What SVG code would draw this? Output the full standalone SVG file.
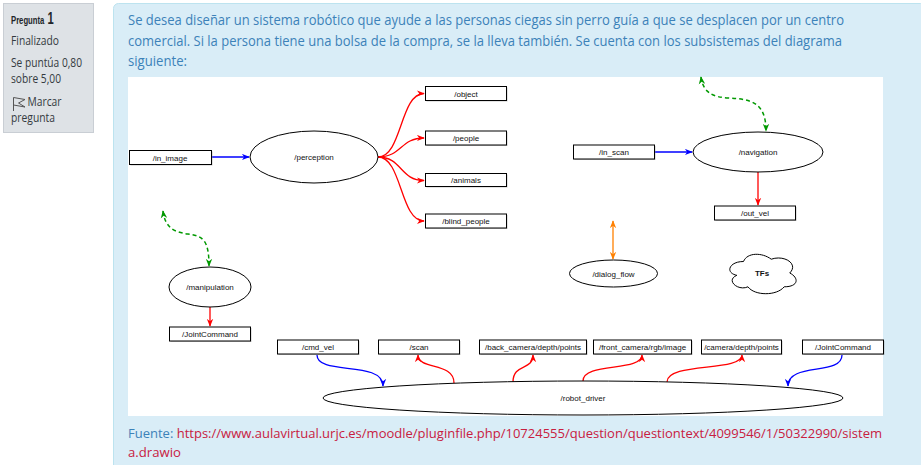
<svg xmlns="http://www.w3.org/2000/svg" width="921" height="465" viewBox="0 0 921 465">
<style>
.pg{font-family:"Open Sans","Liberation Sans",sans-serif}
.q{font-size:14px;fill:#3c82b9}
.side{font-size:12px;fill:#343a40}
.lbl{font-family:"Liberation Sans",Arial,sans-serif;font-size:8px;fill:#111;text-anchor:middle}
.box{fill:#fff;stroke:#000;stroke-width:1}
.sh{fill:#9a9a9a;opacity:.55}
.ell{fill:#fff;stroke:#000;stroke-width:1}
.r{fill:none;stroke:#ff0000;stroke-width:1.3;marker-end:url(#mr)}
.b{fill:none;stroke:#0000ff;stroke-width:1.3;marker-end:url(#mb)}
.g{fill:none;stroke:#009900;stroke-width:1.5;stroke-dasharray:4 3;marker-start:url(#mg);marker-end:url(#mg)}
.o{fill:none;stroke:#ff8000;stroke-width:1.3;marker-start:url(#mo);marker-end:url(#mo)}
</style>
<defs>
<marker id="mr" viewBox="0 0 10 8" refX="9" refY="4" markerWidth="8" markerHeight="7" orient="auto-start-reverse" markerUnits="userSpaceOnUse"><path d="M0,0 L10,4 L0,8 L3,4 z" fill="#ff0000"/></marker>
<marker id="mb" viewBox="0 0 10 8" refX="9" refY="4" markerWidth="8" markerHeight="7" orient="auto-start-reverse" markerUnits="userSpaceOnUse"><path d="M0,0 L10,4 L0,8 L3,4 z" fill="#0000ff"/></marker>
<marker id="mg" viewBox="0 0 10 8" refX="9" refY="4" markerWidth="8" markerHeight="7" orient="auto-start-reverse" markerUnits="userSpaceOnUse"><path d="M0,0 L10,4 L0,8 L3,4 z" fill="#009900"/></marker>
<marker id="mo" viewBox="0 0 10 8" refX="9" refY="4" markerWidth="8" markerHeight="7" orient="auto-start-reverse" markerUnits="userSpaceOnUse"><path d="M0,0 L10,4 L0,8 L3,4 z" fill="#ff8000"/></marker>
</defs>
<rect width="921" height="465" fill="#ffffff"/>

<g id="info-panel">
<rect x="3.5" y="3.5" width="90" height="129" fill="#dee2e6" stroke="#c9ced4"/>
<text transform="translate(11,24) scale(0.7,1)" font-family="'Liberation Sans',Arial,sans-serif" font-weight="bold" font-size="11" fill="#212529">Pregunta</text>
<text transform="translate(47.5,24) scale(0.7,1)" font-family="'Liberation Sans',Arial,sans-serif" font-weight="bold" font-size="16" fill="#212529">1</text>
<text class="pg side" x="11" y="45" textLength="48" lengthAdjust="spacingAndGlyphs">Finalizado</text>
<text class="pg side" x="11" y="67" textLength="71" lengthAdjust="spacingAndGlyphs">Se puntúa 0,80</text>
<text class="pg side" x="11" y="83" textLength="50" lengthAdjust="spacingAndGlyphs">sobre 5,00</text>
<path d="M13.5,111 L13.5,97.5 L25,99.5 L18.5,103 L25,107 L13.5,105" fill="none" stroke="#555" stroke-width="1"/>
<text class="pg side" x="27.5" y="106" textLength="34" lengthAdjust="spacingAndGlyphs">Marcar</text>
<text class="pg side" x="11" y="122" textLength="44" lengthAdjust="spacingAndGlyphs">pregunta</text>
</g>

<g id="question">
<rect x="113.5" y="3.5" width="812" height="470" rx="5" fill="#d9edf7" stroke="#bce3ef"/>
<text class="pg q" x="128" y="25" textLength="716" lengthAdjust="spacingAndGlyphs">Se desea diseñar un sistema robótico que ayude a las personas ciegas sin perro guía a que se desplacen por un centro</text>
<text class="pg q" x="128" y="46" textLength="714" lengthAdjust="spacingAndGlyphs">comercial. Si la persona tiene una bolsa de la compra, se la lleva también. Se cuenta con los subsistemas del diagrama</text>
<text class="pg q" x="128" y="66" textLength="59" lengthAdjust="spacingAndGlyphs">siguiente:</text>
<rect x="128" y="77" width="755" height="339" fill="#ffffff"/>
<text class="pg" font-size="13" x="128" y="438" textLength="754" lengthAdjust="spacingAndGlyphs"><tspan fill="#3c82b9">Fuente: </tspan><tspan fill="#c8203f">https://www.aulavirtual.urjc.es/moodle/pluginfile.php/10724555/question/questiontext/4099546/1/50322990/sistem</tspan></text>
<text class="pg" font-size="13" fill="#c8203f" x="128" y="457" textLength="53" lengthAdjust="spacingAndGlyphs">a.drawio</text>
</g>

<g id="connectors">
<path class="b" d="M211,157 L249,157"/>
<path class="r" d="M378,157 C402,157 400,93.5 424,93.5"/>
<path class="r" d="M378,157 C402,157 400,138 424,138"/>
<path class="r" d="M378,157 C402,157 400,180.5 424,180.5"/>
<path class="r" d="M378,157 C402,157 400,221 424,221"/>
<path class="b" d="M654,152 L692,152"/>
<path class="r" d="M758,172 L758,205"/>
<path class="g" d="M701,77 C703,92 712,97 728,98 C752,99 766,103 766,131"/>
<path class="g" d="M163,211 C165,226 172,232 188,234 C203,236 209,240 209,266"/>
<path class="r" d="M210,307 L210,326"/>
<path class="o" d="M613,221 L613,259"/>
<path class="b" d="M317,355 C317,376 383,360 383,386"/>
<path class="r" d="M454,383 C454,362 418,370 418,355"/>
<path class="r" d="M513,382 C513,363 533,371 533,355"/>
<path class="r" d="M583,381 C583,362 642,372 642,355"/>
<path class="r" d="M667,382 C667,362 742,372 742,355"/>
<path class="b" d="M842,355 C842,376 788,362 788,386"/>
</g>

<g id="in_image"><rect class="sh" x="130.5" y="151.5" width="82" height="14"/><rect class="box" x="129.5" y="150.5" width="82" height="14"/><text class="lbl" x="170" y="160.5">/in_image</text></g>
<g id="perception"><ellipse class="ell" cx="314" cy="157" rx="64" ry="26"/><text class="lbl" x="314" y="160">/perception</text></g>
<g id="object"><rect class="sh" x="426.5" y="87.5" width="81" height="14"/><rect class="box" x="425.5" y="86.5" width="81" height="14"/><text class="lbl" x="466" y="96.5">/object</text></g>
<g id="people"><rect class="sh" x="426.5" y="132" width="81" height="14"/><rect class="box" x="425.5" y="131" width="81" height="14"/><text class="lbl" x="466" y="141">/people</text></g>
<g id="animals"><rect class="sh" x="426.5" y="174.5" width="81" height="13"/><rect class="box" x="425.5" y="173.5" width="81" height="13"/><text class="lbl" x="466" y="183">/animals</text></g>
<g id="blind_people"><rect class="sh" x="426.5" y="215" width="81" height="14"/><rect class="box" x="425.5" y="214" width="81" height="14"/><text class="lbl" x="466" y="224">/blind_people</text></g>

<g id="in_scan"><rect class="sh" x="574.5" y="146" width="81" height="14"/><rect class="box" x="573.5" y="145" width="81" height="14"/><text class="lbl" x="614" y="155">/in_scan</text></g>
<g id="navigation"><ellipse class="ell" cx="758" cy="152" rx="65" ry="20"/><text class="lbl" x="758" y="155">/navigation</text></g>
<g id="out_vel"><rect class="sh" x="715.5" y="207" width="81" height="14"/><rect class="box" x="714.5" y="206" width="81" height="14"/><text class="lbl" x="755" y="216">/out_vel</text></g>

<g id="manipulation"><ellipse class="ell" cx="210" cy="287" rx="41" ry="20"/><text class="lbl" x="210" y="290">/manipulation</text></g>
<g id="jointcommand_manip"><rect class="sh" x="170.5" y="328" width="81" height="14"/><rect class="box" x="169.5" y="327" width="81" height="14"/><text class="lbl" x="210" y="337">/JointCommand</text></g>

<g id="dialog_flow"><ellipse class="ell" cx="613.5" cy="273.5" rx="44" ry="13.5"/><text class="lbl" x="613.5" y="276.5">/dialog_flow</text></g>
<g id="tfs"><path d="M743.5,261.5 C728.7,261.5 725,273 736.84,275.3 C725,280.36 738.32,291.4 747.94,286.8 C754.6,296 776.8,296 784.2,286.8 C799,286.8 799,277.6 789.75,273 C799,263.8 784.2,254.6 771.25,259.2 C762,252.3 747.2,252.3 743.5,261.5 Z" fill="#fff" stroke="#000" stroke-width="1"/><text class="lbl" x="762" y="276" font-weight="bold">TFs</text></g>

<g id="cmd_vel"><rect class="sh" x="278.5" y="341" width="81" height="14"/><rect class="box" x="277.5" y="340" width="81" height="14"/><text class="lbl" x="318" y="350">/cmd_vel</text></g>
<g id="scan"><rect class="sh" x="379.5" y="341" width="81" height="14"/><rect class="box" x="378.5" y="340" width="81" height="14"/><text class="lbl" x="419" y="350">/scan</text></g>
<g id="back_camera"><rect class="sh" x="480.5" y="341" width="107" height="14"/><rect class="box" x="479.5" y="340" width="107" height="14"/><text class="lbl" x="533" y="350">/back_camera/depth/points</text></g>
<g id="front_camera"><rect class="sh" x="594.5" y="341" width="98" height="14"/><rect class="box" x="593.5" y="340" width="98" height="14"/><text class="lbl" x="642.5" y="350">/front_camera/rgb/image</text></g>
<g id="camera_depth"><rect class="sh" x="702.5" y="341" width="80" height="14"/><rect class="box" x="701.5" y="340" width="80" height="14"/><text class="lbl" x="741.5" y="350">/camera/depth/points</text></g>
<g id="jointcommand_driver"><rect class="sh" x="803.5" y="341" width="81" height="14"/><rect class="box" x="802.5" y="340" width="81" height="14"/><text class="lbl" x="843" y="350">/JointCommand</text></g>
<g id="robot_driver"><ellipse class="ell" cx="583" cy="398" rx="260" ry="17"/><text class="lbl" x="583" y="401">/robot_driver</text></g>
</svg>
